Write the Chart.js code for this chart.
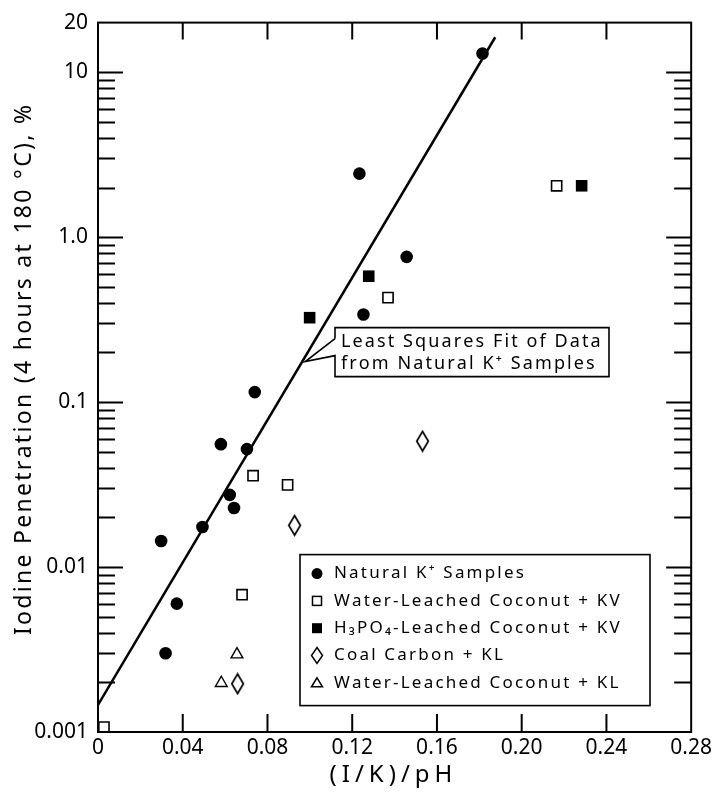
<!DOCTYPE html>
<html lang="en">
<head>
<meta charset="UTF-8">
<title>Iodine Penetration vs (I/K)/pH</title>
<script src="https://cdn.jsdelivr.net/npm/chart.js@4.4.1/dist/chart.umd.min.js"></script>
<style>
  html, body { margin: 0; padding: 0; background: #fff; }
  #wrap { width: 715px; height: 792px; }
</style>
</head>
<body>
<div id="wrap"><canvas id="penChart"></canvas></div>
<script>
// values
const naturalX = [0.0298, 0.0319, 0.0372, 0.0493, 0.0580, 0.0622, 0.0642, 0.0703, 0.0740, 0.1234, 0.1253, 0.1457, 0.1815];
const naturalY = [0.0144, 0.0030, 0.0060, 0.0175, 0.0556, 0.0274, 0.0228, 0.0519, 0.115, 2.43, 0.340, 0.76, 13.0];

const waterKvX = [0.0028, 0.0680, 0.0732, 0.0895, 0.1369, 0.2165];
const waterKvY = [0.00107, 0.0068, 0.0358, 0.0315, 0.43, 2.05];

const h3po4X = [0.0999, 0.1278, 0.2283];
const h3po4Y = [0.325, 0.58, 2.05];

const coalX = [0.0659, 0.0928, 0.1532];
const coalY = [0.00196, 0.0179, 0.058];

const waterKlX = [0.0582, 0.0656];
const waterKlY = [0.00198, 0.00295];

// least squares line endpoints
const fitX = [0, 0.1875];
const fitY = [0.00146, 16.3];

const xTicks = [0, 0.04, 0.08, 0.12, 0.16, 0.20, 0.24, 0.28];
const xTickLabels = ['0', '0.04', '0.08', '0.12', '0.16', '0.20', '0.24', '0.28'];
const yTicks = [0.001, 0.01, 0.1, 1, 10, 20];
const yTickLabels = ['0.001', '0.01', '0.1', '1.0', '10', '20'];

const xTitle = '(I/K)/pH';
const yTitle = 'Iodine Penetration (4 hours at 180 \u00B0C), %';

const seriesNames = [
  'Natural K\u207A Samples',
  'Water-Leached Coconut + KV',
  'H\u2083PO\u2084-Leached Coconut + KV',
  'Coal Carbon + KL',
  'Water-Leached Coconut + KL'
];
const calloutLines = ['Least Squares Fit of Data', 'from Natural K\u207A Samples'];

const FONT = "'Noto Sans', 'DejaVu Sans', sans-serif";

function pts(xs, ys) {
  return xs.map((v, i) => ({ x: v, y: ys[i] }));
}

// tall open diamond used as a point style
function makeDiamond(w, h, lw) {
  const c = document.createElement('canvas');
  c.width = w + 2 * lw;
  c.height = h + 2 * lw;
  const g = c.getContext('2d');
  g.lineWidth = lw;
  g.strokeStyle = '#000';
  g.beginPath();
  g.moveTo(c.width / 2, lw);
  g.lineTo(c.width - lw, c.height / 2);
  g.lineTo(c.width / 2, c.height - lw);
  g.lineTo(lw, c.height / 2);
  g.closePath();
  g.stroke();
  return c;
}

function spacedWidth(ctx, text, spacing) {
  let w = 0;
  for (const ch of text) w += ctx.measureText(ch).width + spacing;
  return w - spacing;
}

function spacedText(ctx, text, x, y, spacing) {
  for (const ch of text) {
    ctx.fillText(ch, x, y);
    x += ctx.measureText(ch).width + spacing;
  }
}

function legendMarker(ctx, kind, x, y) {
  ctx.save();
  ctx.strokeStyle = '#000';
  ctx.fillStyle = '#000';
  ctx.lineWidth = 1.5;
  ctx.beginPath();
  if (kind === 0) {
    ctx.arc(x, y, 5.5, 0, Math.PI * 2);
    ctx.fill();
  } else if (kind === 1) {
    ctx.strokeRect(x - 4.5, y - 4.5, 9, 9);
  } else if (kind === 2) {
    ctx.fillRect(x - 5, y - 5, 10, 10);
  } else if (kind === 3) {
    ctx.moveTo(x, y - 8); ctx.lineTo(x + 5.5, y); ctx.lineTo(x, y + 8); ctx.lineTo(x - 5.5, y);
    ctx.closePath();
    ctx.stroke();
  } else {
    ctx.moveTo(x, y - 5); ctx.lineTo(x + 5.5, y + 4); ctx.lineTo(x - 5.5, y + 4);
    ctx.closePath();
    ctx.stroke();
  }
  ctx.restore();
}

const decorations = {
  id: 'decorations',
  afterDraw(chart) {
    const { ctx, chartArea: a, scales: { x, y } } = chart;
    ctx.save();
    ctx.strokeStyle = '#000';

    // frame
    ctx.lineWidth = 2;
    ctx.strokeRect(a.left, a.top, a.right - a.left, a.bottom - a.top);

    // inward tick marks
    ctx.beginPath();
    xTicks.forEach(v => {
      if (v <= x.min || v >= x.max) return;
      const px = x.getPixelForValue(v);
      ctx.moveTo(px, a.bottom); ctx.lineTo(px, a.bottom - 18);
      ctx.moveTo(px, a.top); ctx.lineTo(px, a.top + 17);
    });
    for (let d = -3; d <= 1; d++) {
      for (let m = 1; m <= 9; m++) {
        const v = m * Math.pow(10, d);
        if (v <= y.min * 1.0001 || v >= y.max) continue;
        if (d === 1 && m > 1) continue;
        const len = m === 1 ? 25 : 17;
        const py = Math.round(y.getPixelForValue(v)) + 0.5;
        ctx.moveTo(a.left, py); ctx.lineTo(a.left + len, py);
        ctx.moveTo(a.right, py); ctx.lineTo(a.right - len, py);
      }
    }
    ctx.stroke();

    ctx.fillStyle = '#000';
    ctx.textBaseline = 'middle';

    // axis titles, letter-spaced like the original lettering
    ctx.font = '24px ' + FONT;
    let tw = spacedWidth(ctx, xTitle, 5);
    spacedText(ctx, xTitle, 391 - tw / 2, 775, 5);

    ctx.save();
    ctx.font = '23px ' + FONT;
    ctx.translate(24, 370);
    ctx.rotate(-Math.PI / 2);
    tw = spacedWidth(ctx, yTitle, 2.3);
    spacedText(ctx, yTitle, -tw / 2, 0, 2.3);
    ctx.restore();

    // callout for the fitted line
    const fx0 = x.getPixelForValue(fitX[0]), fy0 = y.getPixelForValue(fitY[0]);
    const fx1 = x.getPixelForValue(fitX[1]), fy1 = y.getPixelForValue(fitY[1]);
    const tipY = a.top + 339;
    const tipX = fx0 + (fx1 - fx0) * (tipY - fy0) / (fy1 - fy0) + 3;
    const bx = 335, by = a.top + 305, bw = 274, bh = 49;
    ctx.lineWidth = 1.6;
    ctx.beginPath();
    ctx.moveTo(bx, by + 11);
    ctx.lineTo(bx, by);
    ctx.lineTo(bx + bw, by);
    ctx.lineTo(bx + bw, by + bh);
    ctx.lineTo(bx, by + bh);
    ctx.lineTo(bx, by + 28);
    ctx.lineTo(tipX, tipY);
    ctx.lineTo(bx, by + 11);
    ctx.fillStyle = '#fff';
    ctx.fill();
    ctx.stroke();
    ctx.fillStyle = '#000';
    ctx.font = '18px ' + FONT;
    spacedText(ctx, calloutLines[0], bx + 6, by + 14, 2.1);
    spacedText(ctx, calloutLines[1], bx + 6, by + 36, 2.1);

    // legend box
    const lx = 300, ly = a.top + 532, lw = 350, lh = 151;
    ctx.lineWidth = 1.6;
    ctx.fillStyle = '#fff';
    ctx.fillRect(lx, ly, lw, lh);
    ctx.strokeRect(lx, ly, lw, lh);
    ctx.fillStyle = '#000';
    ctx.font = '17px ' + FONT;
    seriesNames.forEach((name, i) => {
      const ry = ly + 19 + i * 27.3;
      legendMarker(ctx, i, lx + 17, ry);
      spacedText(ctx, name, lx + 34, ry, 2.2);
    });
    ctx.restore();
  }
};

const ctx = document.getElementById('penChart').getContext('2d');
new Chart(ctx, {
  type: 'scatter',
  data: {
    datasets: [
      {
        label: 'Least Squares Fit',
        type: 'line',
        data: pts(fitX, fitY),
        borderColor: '#000',
        borderWidth: 2.5,
        pointRadius: 0,
        fill: false,
        tension: 0
      },
      {
        label: seriesNames[0],
        data: pts(naturalX, naturalY),
        pointStyle: 'circle',
        pointRadius: 6.3,
        backgroundColor: '#000',
        borderColor: '#000',
        borderWidth: 0,
        clip: false
      },
      {
        label: seriesNames[1],
        data: pts(waterKvX, waterKvY),
        pointStyle: 'rect',
        pointRadius: 7.2,
        backgroundColor: '#fff',
        borderColor: '#000',
        borderWidth: 1.6,
        clip: false
      },
      {
        label: seriesNames[2],
        data: pts(h3po4X, h3po4Y),
        pointStyle: 'rect',
        pointRadius: 8.2,
        backgroundColor: '#000',
        borderColor: '#000',
        borderWidth: 0,
        clip: false
      },
      {
        label: seriesNames[3],
        data: pts(coalX, coalY),
        pointStyle: makeDiamond(12, 20, 1.7),
        backgroundColor: '#fff',
        borderColor: '#000',
        clip: false
      },
      {
        label: seriesNames[4],
        data: pts(waterKlX, waterKlY),
        pointStyle: 'triangle',
        pointRadius: 6.8,
        backgroundColor: '#fff',
        borderColor: '#000',
        borderWidth: 1.4,
        clip: false
      }
    ]
  },
  options: {
    responsive: true,
    maintainAspectRatio: false,
    animation: false,
    layout: { padding: { top: 17, right: 23, left: 0, bottom: 0 } },
    plugins: {
      legend: { display: false },
      tooltip: { enabled: false }
    },
    scales: {
      x: {
        type: 'linear',
        min: 0,
        max: 0.28,
        afterBuildTicks: s => { s.ticks = xTicks.map(v => ({ value: v })); },
        afterFit: s => { s.height = 60; },
        grid: { display: false, drawTicks: false },
        border: { display: false },
        ticks: {
          autoSkip: false,
          maxRotation: 0,
          padding: 3,
          color: '#000',
          font: { family: FONT, size: 21 },
          callback: (v, i) => xTickLabels[i]
        }
      },
      y: {
        type: 'logarithmic',
        min: 0.001,
        max: 20,
        afterBuildTicks: s => { s.ticks = yTicks.map(v => ({ value: v })); },
        afterFit: s => { s.width = 98; },
        grid: { display: false, drawTicks: false },
        border: { display: false },
        ticks: {
          autoSkip: false,
          padding: 10,
          color: '#000',
          font: { family: FONT, size: 21 },
          callback: (v, i) => yTickLabels[i]
        }
      }
    }
  },
  plugins: [decorations]
});
</script>
</body>
</html>
